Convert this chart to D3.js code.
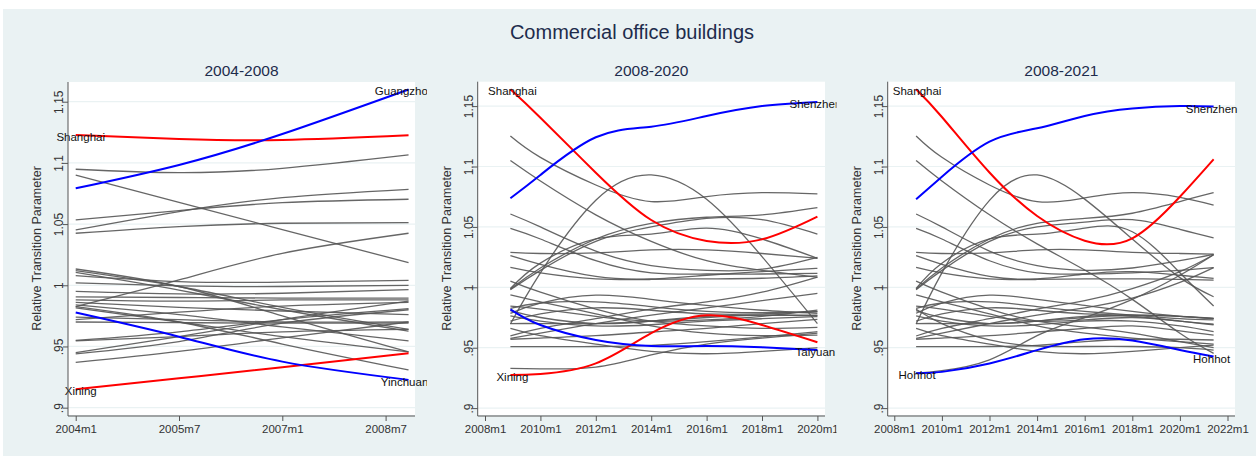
<!DOCTYPE html>
<html>
<head>
<meta charset="utf-8">
<script src="https://cdn.jsdelivr.net/npm/d3@7"></script>
<style>
  html, body { margin: 0; padding: 0; background: #ffffff; }
  svg { display: block; font-family: "Liberation Sans", Arial, sans-serif; }
</style>
</head>
<body>
<svg id="chart" width="1256" height="457"></svg>
<script>
// ---- Y axis ticks shared by all panels ----
const yTickValues = [0.9, 0.95, 1, 1.05, 1.1, 1.15];
const yTickLabels = [".9", ".95", "1", "1.05", "1.1", "1.15"];

// ---- Panel 1: 2004-2008 ----
const p1Months = ["2004m1", "2005m7", "2007m1", "2008m11"];
const p1Ticks = ["2004m1", "2005m7", "2007m1", "2008m7"];
const p1Shanghai  = [1.1228, 1.1195, 1.1187, 1.1225];
const p1Guangzhou = [1.0792, 1.0983, 1.1236, 1.1600];
const p1Yinchuan  = [0.9777, 0.9580, 0.9376, 0.9227];
const p1Xining    = [0.9150, 0.9240, 0.9330, 0.9444];
const p1Others = [
  [1.0948, 1.0920, 1.0956, 1.1065],
  [1.0901, 1.0678, 1.0455, 1.0185],
  [1.0534, 1.0610, 1.0675, 1.0703],
  [1.0452, 1.0602, 1.0716, 1.0784],
  [1.0425, 1.0479, 1.0507, 1.0512],
  [0.9826, 1.0044, 1.0261, 1.0425],
  [1.0133, 0.9990, 0.9750, 0.9455],
  [1.0120, 0.9990, 0.9820, 0.9640],
  [1.0105, 0.9960, 0.9800, 0.9625],
  [1.0079, 1.0030, 1.0025, 1.0040],
  [1.0019, 0.9995, 0.9990, 1.0000],
  [0.9950, 0.9930, 0.9935, 0.9965],
  [0.9905, 0.9900, 0.9895, 0.9895],
  [0.9880, 0.9870, 0.9880, 0.9880],
  [0.9860, 0.9820, 0.9790, 0.9760],
  [0.9840, 0.9760, 0.9660, 0.9545],
  [0.9815, 0.9700, 0.9580, 0.9455],
  [0.9826, 0.9700, 0.9520, 0.9308],
  [0.9740, 0.9720, 0.9700, 0.9700],
  [0.9720, 0.9780, 0.9830, 0.9860],
  [0.9700, 0.9695, 0.9690, 0.9690],
  [0.9545, 0.9580, 0.9620, 0.9640],
  [0.9550, 0.9620, 0.9720, 0.9810],
  [0.9450, 0.9580, 0.9720, 0.9870],
  [0.9440, 0.9540, 0.9690, 0.9800],
  [0.9370, 0.9460, 0.9570, 0.9700]
];

// ---- Panel 2: 2008-2020 ----
const p2Months = ["2008m12", "2010m1", "2012m1", "2014m1", "2016m1", "2018m1", "2020m1"];
const p2Ticks = ["2008m1", "2010m1", "2012m1", "2014m1", "2016m1", "2018m1", "2020m1"];
const p2Shanghai = [1.1639, 1.1404, 1.0949, 1.0557, 1.0384, 1.0397, 1.0585];
const p2Shenzhen = [1.0737, 1.0930, 1.1242, 1.1330, 1.1418, 1.1500, 1.1534];
const p2Taiyuan  = [0.9818, 0.9688, 0.9564, 0.9514, 0.9514, 0.9503, 0.9481];
const p2Xining   = [0.9274, 0.9283, 0.9370, 0.9620, 0.9768, 0.9688, 0.9545];
const p2Others = [
  [1.1253, 1.1076, 1.0847, 1.0710, 1.0751, 1.0784, 1.0773],
  [1.1049, 1.0880, 1.0600, 1.0380, 1.0220, 1.0140, 1.0083],
  [0.9696, 1.0120, 1.0720, 1.0930, 1.0728, 1.0254, 0.9700],
  [1.0607, 1.0500, 1.0300, 1.0180, 1.0140, 1.0150, 1.0248],
  [1.0488, 1.0400, 1.0220, 1.0120, 1.0110, 1.0110, 1.0116],
  [1.0290, 1.0280, 1.0285, 1.0310, 1.0310, 1.0280, 1.0240],
  [1.0262, 1.0190, 1.0090, 1.0070, 1.0100, 1.0130, 1.0157],
  [1.0166, 1.0120, 1.0070, 1.0065, 1.0070, 1.0075, 1.0094],
  [0.9985, 1.0160, 1.0400, 1.0530, 1.0580, 1.0600, 1.0659],
  [0.9990, 1.0200, 1.0400, 1.0440, 1.0490, 1.0400, 1.0240],
  [0.9980, 1.0140, 1.0380, 1.0500, 1.0570, 1.0560, 1.0441],
  [0.9785, 0.9870, 0.9935, 0.9900, 0.9850, 0.9810, 0.9785],
  [0.9826, 0.9870, 0.9880, 0.9840, 0.9800, 0.9790, 0.9799],
  [0.9845, 0.9820, 0.9760, 0.9720, 0.9730, 0.9760, 0.9812],
  [0.9807, 0.9750, 0.9700, 0.9720, 0.9760, 0.9770, 0.9770],
  [0.9763, 0.9720, 0.9680, 0.9690, 0.9720, 0.9740, 0.9757],
  [0.9597, 0.9660, 0.9740, 0.9820, 0.9880, 0.9960, 1.0085],
  [0.9578, 0.9620, 0.9700, 0.9770, 0.9830, 0.9890, 0.9950],
  [0.9570, 0.9580, 0.9600, 0.9630, 0.9660, 0.9700, 0.9735],
  [0.9509, 0.9509, 0.9510, 0.9520, 0.9550, 0.9590, 0.9633],
  [0.9329, 0.9325, 0.9340, 0.9440, 0.9530, 0.9580, 0.9620],
  [0.9660, 0.9600, 0.9530, 0.9470, 0.9450, 0.9470, 0.9500],
  [1.0052, 0.9960, 0.9820, 0.9720, 0.9680, 0.9660, 0.9669],
  [0.9937, 0.9880, 0.9780, 0.9680, 0.9620, 0.9600, 0.9605],
  [0.9720, 0.9780, 0.9830, 0.9810, 0.9780, 0.9780, 0.9798],
  [0.9700, 0.9700, 0.9700, 0.9720, 0.9750, 0.9770, 0.9765]
];

// ---- Panel 3: 2008-2021 ----
const p3Months = ["2008m12", "2010m1", "2012m1", "2014m1", "2016m1", "2018m1", "2020m1", "2021m6"];
const p3Ticks = ["2008m1", "2010m1", "2012m1", "2014m1", "2016m1", "2018m1", "2020m1", "2022m1"];
const p3Shanghai = [1.1639, 1.1410, 1.0950, 1.0590, 1.0386, 1.0406, 1.0750, 1.1060];
const p3Shenzhen = [1.0728, 1.0916, 1.1206, 1.1316, 1.1418, 1.1480, 1.1500, 1.1496];
const p3Hohhot   = [0.9288, 0.9300, 0.9370, 0.9480, 0.9570, 0.9559, 0.9481, 0.9427];
const p3Others = [
  [1.1253, 1.1076, 1.0847, 1.0710, 1.0740, 1.0783, 1.0745, 1.0681],
  [1.1049, 1.0880, 1.0600, 1.0360, 1.0143, 0.9900, 0.9620, 0.9453],
  [0.9696, 1.0120, 1.0720, 1.0930, 1.0730, 1.0400, 1.0080, 0.9922],
  [1.0607, 1.0500, 1.0300, 1.0180, 1.0140, 1.0160, 1.0220, 1.0273],
  [1.0488, 1.0400, 1.0220, 1.0120, 1.0110, 1.0120, 1.0140, 1.0163],
  [1.0290, 1.0280, 1.0285, 1.0310, 1.0310, 1.0290, 1.0280, 1.0275],
  [1.0262, 1.0190, 1.0090, 1.0070, 1.0110, 1.0130, 1.0100, 1.0074],
  [1.0166, 1.0120, 1.0070, 1.0065, 1.0070, 1.0070, 1.0065, 1.0060],
  [0.9985, 1.0160, 1.0400, 1.0530, 1.0570, 1.0613, 1.0710, 1.0783],
  [0.9990, 1.0200, 1.0400, 1.0440, 1.0490, 1.0460, 1.0120, 0.9845],
  [0.9980, 1.0140, 1.0380, 1.0500, 1.0540, 1.0560, 1.0480, 1.0410],
  [0.9785, 0.9870, 0.9935, 0.9900, 0.9850, 0.9800, 0.9760, 0.9743],
  [0.9826, 0.9870, 0.9880, 0.9840, 0.9800, 0.9770, 0.9740, 0.9730],
  [0.9845, 0.9820, 0.9760, 0.9720, 0.9730, 0.9750, 0.9720, 0.9696],
  [0.9807, 0.9750, 0.9700, 0.9720, 0.9760, 0.9760, 0.9720, 0.9690],
  [0.9763, 0.9720, 0.9680, 0.9690, 0.9720, 0.9720, 0.9680, 0.9633],
  [0.9597, 0.9660, 0.9740, 0.9820, 0.9890, 0.9990, 1.0130, 1.0270],
  [0.9578, 0.9620, 0.9700, 0.9770, 0.9830, 0.9910, 1.0040, 1.0163],
  [0.9570, 0.9580, 0.9600, 0.9630, 0.9660, 0.9680, 0.9640, 0.9605],
  [0.9509, 0.9509, 0.9510, 0.9520, 0.9550, 0.9570, 0.9570, 0.9564],
  [0.9290, 0.9310, 0.9400, 0.9600, 0.9750, 0.9900, 1.0100, 1.0270],
  [0.9818, 0.9700, 0.9564, 0.9514, 0.9510, 0.9510, 0.9500, 0.9480],
  [0.9660, 0.9600, 0.9530, 0.9470, 0.9450, 0.9470, 0.9500, 0.9522],
  [1.0052, 0.9960, 0.9820, 0.9720, 0.9670, 0.9620, 0.9550, 0.9500],
  [0.9937, 0.9880, 0.9780, 0.9680, 0.9620, 0.9580, 0.9550, 0.9530],
  [0.9720, 0.9780, 0.9830, 0.9810, 0.9780, 0.9770, 0.9760, 0.9743],
  [0.9700, 0.9700, 0.9700, 0.9720, 0.9750, 0.9770, 0.9760, 0.9740]
];

// ---- styling ----
const RED = "#ff0000", BLUE = "#0000ff", GREY = "#555555";
const BG = "#eaf2f3", INK = "#1e2c4c";

// "2008m7" -> fractional year
const parseMonth = s => {
  const [y, m] = s.split("m").map(Number);
  return y + (m - 1) / 12;
};

const panels = [
  {
    title: "2004-2008", months: p1Months, ticks: p1Ticks, others: p1Others,
    xDomain: [2003.888, 2008.927], yDomain: [0.894, 1.1661],
    left: 68, right: 415, top: 82, bottom: 415, clipLeft: 0, clipRight: 427,
    startShift: 5, endShift: -4,
    highlights: [
      { name: "Shanghai", values: p1Shanghai, color: RED, start: true, end: false },
      { name: "Xining", values: p1Xining, color: RED, start: true, end: false },
      { name: "Guangzhou", values: p1Guangzhou, color: BLUE, start: false, end: true },
      { name: "Yinchuan", values: p1Yinchuan, color: BLUE, start: false, end: true }
    ]
  },
  {
    title: "2008-2020", months: p2Months, ticks: p2Ticks, others: p2Others,
    xDomain: [2007.736, 2020.274], yDomain: [0.8943, 1.1702],
    left: 477.7, right: 825, top: 81.7, bottom: 415, clipLeft: 427, clipRight: 836.5,
    startShift: 2, endShift: -2,
    highlights: [
      { name: "Shanghai", values: p2Shanghai, color: RED, start: true, end: false },
      { name: "Xining", values: p2Xining, color: RED, start: true, end: false },
      { name: "Shenzhen", values: p2Shenzhen, color: BLUE, start: false, end: true },
      { name: "Taiyuan", values: p2Taiyuan, color: BLUE, start: false, end: true }
    ]
  },
  {
    title: "2008-2021", months: p3Months, ticks: p3Ticks, others: p3Others,
    xDomain: [2007.723, 2022.315], yDomain: [0.8943, 1.1702],
    left: 887.7, right: 1235, top: 81.7, bottom: 415, clipLeft: 836.5, clipRight: 1256,
    startShift: 1, endShift: -2,
    highlights: [
      { name: "Shanghai", values: p3Shanghai, color: RED, start: true, end: false },
      { name: "Shenzhen", values: p3Shenzhen, color: BLUE, start: false, end: true },
      { name: "Hohhot", values: p3Hohhot, color: BLUE, start: true, end: true }
    ]
  }
];

const svg = d3.select("#chart");

// outer graph region
svg.append("rect")
  .attr("x", 3).attr("y", 9).attr("width", 1253).attr("height", 447)
  .attr("fill", BG);

svg.append("text")
  .attr("x", 632).attr("y", 32)
  .attr("text-anchor", "middle").attr("dominant-baseline", "central")
  .attr("font-size", 20).attr("fill", INK)
  .text("Commercial office buildings");

const defs = svg.append("defs");

panels.forEach((p, i) => {
  const x = d3.scaleLinear().domain(p.xDomain).range([p.left, p.right]);
  const y = d3.scaleLinear().domain(p.yDomain).range([p.bottom, p.top]);
  const xs = p.months.map(parseMonth);

  defs.append("clipPath").attr("id", "clip" + i)
    .append("rect")
    .attr("x", p.clipLeft).attr("y", 0)
    .attr("width", p.clipRight - p.clipLeft).attr("height", 457);

  const g = svg.append("g").attr("clip-path", `url(#clip${i})`);

  // plot region
  g.append("rect")
    .attr("x", p.left).attr("y", p.top)
    .attr("width", p.right - p.left).attr("height", p.bottom - p.top)
    .attr("fill", "#ffffff");

  // horizontal grid
  g.append("g").selectAll("line").data(yTickValues).join("line")
    .attr("x1", p.left).attr("x2", p.right)
    .attr("y1", d => y(d)).attr("y2", d => y(d))
    .attr("stroke", BG).attr("stroke-width", 1.2);

  // panel subtitle
  g.append("text")
    .attr("x", (p.left + p.right) / 2).attr("y", 70)
    .attr("text-anchor", "middle").attr("dominant-baseline", "central")
    .attr("font-size", 15.5).attr("fill", INK)
    .text(p.title);

  const line = d3.line()
    .x((d, k) => x(xs[k]))
    .y(d => y(d))
    .curve(d3.curveNatural);

  // all other cities
  g.append("g").selectAll("path").data(p.others).join("path")
    .attr("d", line)
    .attr("fill", "none")
    .attr("stroke", GREY).attr("stroke-opacity", 0.9)
    .attr("stroke-width", 1.3);

  // highlighted cities
  g.append("g").selectAll("path").data(p.highlights).join("path")
    .attr("d", d => line(d.values))
    .attr("fill", "none")
    .attr("stroke", d => d.color)
    .attr("stroke-width", 2);

  // city labels at the first and/or last observation
  const labels = [];
  p.highlights.forEach(h => {
    if (h.start) labels.push({ name: h.name, x: xs[0], v: h.values[0], dx: p.startShift });
    if (h.end) labels.push({ name: h.name, x: xs[xs.length - 1], v: h.values[h.values.length - 1], dx: p.endShift });
  });
  g.append("g").selectAll("text").data(labels).join("text")
    .attr("x", d => x(d.x) + d.dx).attr("y", d => y(d.v) + 2)
    .attr("text-anchor", "middle").attr("dominant-baseline", "central")
    .attr("font-size", 11.5).attr("fill", "#111")
    .text(d => d.name);

  // y axis
  const yAxis = d3.axisLeft(y)
    .tickValues(yTickValues)
    .tickFormat((d, k) => yTickLabels[k])
    .tickSize(5).tickPadding(0);
  const ya = g.append("g").attr("transform", `translate(${p.left},0)`).call(yAxis);
  ya.select(".domain").attr("d", `M0,${p.top}V${p.bottom + 1}`).attr("stroke", "#555");
  ya.selectAll(".tick line").attr("stroke", "#555");
  ya.selectAll(".tick text")
    .attr("transform", "rotate(-90)")
    .attr("x", 0).attr("y", -13)
    .attr("text-anchor", "middle").attr("dominant-baseline", "central")
    .attr("font-size", 12).attr("fill", "#333")
    .attr("font-family", "'Liberation Sans', Arial, sans-serif");

  // x axis
  const xAxis = d3.axisBottom(x)
    .tickValues(p.ticks.map(parseMonth))
    .tickFormat((d, k) => p.ticks[k])
    .tickSize(5).tickPadding(4);
  const xa = g.append("g").attr("transform", `translate(0,${p.bottom + 1})`).call(xAxis);
  xa.select(".domain").attr("d", `M${p.left},0H${p.right}`).attr("stroke", "#555");
  xa.selectAll(".tick line").attr("stroke", "#555");
  xa.selectAll(".tick text")
    .attr("font-size", 11.5).attr("fill", "#333")
    .attr("font-family", "'Liberation Sans', Arial, sans-serif");

  // y axis title
  g.append("text")
    .attr("transform", `translate(${p.left - 31},${(p.top + p.bottom) / 2}) rotate(-90)`)
    .attr("text-anchor", "middle").attr("dominant-baseline", "central")
    .attr("font-size", 12.5).attr("fill", "#333")
    .text("Relative Transition Parameter");
});
</script>
</body>
</html>
